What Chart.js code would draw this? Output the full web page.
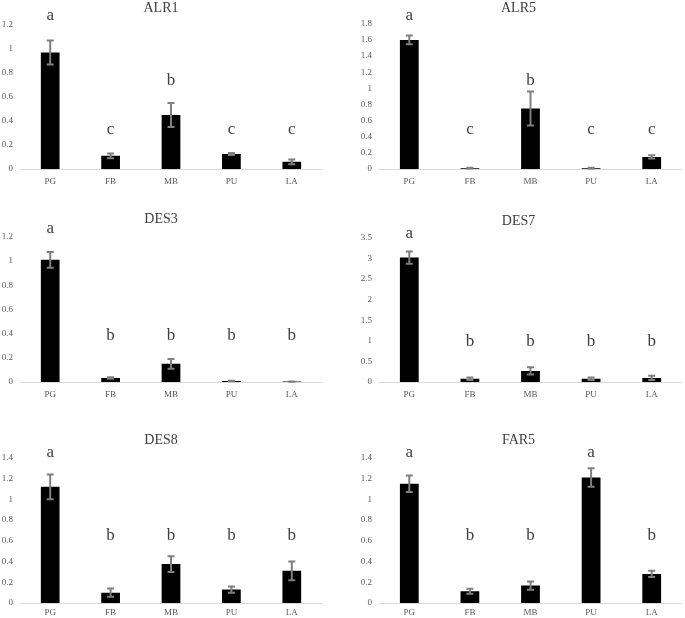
<!DOCTYPE html>
<html>
<head>
<meta charset="utf-8">
<script src="https://cdn.jsdelivr.net/npm/chart.js@4"></script>
<style>
  body { margin: 0; background: #fff; width: 685px; height: 618px; position: relative; overflow: hidden; }
  .panel { position: absolute; }
</style>
</head>
<body>
<div class="panel" style="left:0px;top:0px;width:322px;height:194px"><canvas id="c1"></canvas></div>
<div class="panel" style="left:355px;top:0px;width:327px;height:194px"><canvas id="c2"></canvas></div>
<div class="panel" style="left:0px;top:200px;width:322px;height:207px"><canvas id="c3"></canvas></div>
<div class="panel" style="left:355px;top:200px;width:327px;height:207px"><canvas id="c4"></canvas></div>
<div class="panel" style="left:0px;top:410px;width:322px;height:208px"><canvas id="c5"></canvas></div>
<div class="panel" style="left:355px;top:410px;width:327px;height:208px"><canvas id="c6"></canvas></div>
<script>
// tissues
var labels = ['PG', 'FB', 'MB', 'PU', 'LA'];

// relative expression (mean) and error (sd)
var alr1 = [0.97, 0.11, 0.45, 0.125, 0.06];
var alr1Err = [0.10, 0.02, 0.10, 0.008, 0.02];
var alr1Letters = ['a', 'c', 'b', 'c', 'c'];
var alr1LetterY = [1.28, 0.33, 0.74, 0.33, 0.33];

var alr5 = [1.6, 0.01, 0.75, 0.01, 0.15];
var alr5Err = [0.055, 0.005, 0.21, 0.005, 0.02];
var alr5Letters = ['a', 'c', 'b', 'c', 'c'];
var alr5LetterY = [1.9, 0.49, 1.1, 0.49, 0.49];

var des3 = [1.01, 0.033, 0.15, 0.008, 0.004];
var des3Err = [0.065, 0.006, 0.04, 0.002, 0.001];
var des3Letters = ['a', 'b', 'b', 'b', 'b'];
var des3LetterY = [1.27, 0.38, 0.38, 0.38, 0.38];

var des7 = [3.02, 0.08, 0.27, 0.08, 0.1];
var des7Err = [0.15, 0.03, 0.09, 0.03, 0.05];
var des7Letters = ['a', 'b', 'b', 'b', 'b'];
var des7LetterY = [3.6, 0.99, 0.99, 0.99, 0.99];

var des8 = [1.12, 0.1, 0.375, 0.13, 0.31];
var des8Err = [0.12, 0.04, 0.075, 0.03, 0.09];
var des8Letters = ['a', 'b', 'b', 'b', 'b'];
var des8LetterY = [1.45, 0.65, 0.65, 0.65, 0.65];

var far5 = [1.15, 0.113, 0.168, 1.21, 0.28];
var far5Err = [0.08, 0.025, 0.04, 0.09, 0.03];
var far5Letters = ['a', 'b', 'b', 'a', 'b'];
var far5LetterY = [1.45, 0.65, 0.65, 1.45, 0.65];

// axis ranges
var yMax = [1.2, 1.8, 1.2, 3.5, 1.4, 1.4];
var yStep = [0.2, 0.2, 0.2, 0.5, 0.2, 0.2];

var serif = '"Liberation Serif", "Times New Roman", serif';

// error bars + significance letters
var extras = {
  id: 'extras',
  afterDatasetsDraw: function(chart) {
    var o = chart.options.plugins.extras;
    var ctx = chart.ctx;
    var x = chart.scales.x, y = chart.scales.y;
    var vals = chart.data.datasets[0].data;
    ctx.save();
    ctx.strokeStyle = '#7f7f7f';
    ctx.lineWidth = 2;
    for (var i = 0; i < vals.length; i++) {
      var px = x.getPixelForValue(i);
      var top = y.getPixelForValue(vals[i] + o.err[i]);
      var bot = y.getPixelForValue(Math.max(vals[i] - o.err[i], 0));
      ctx.beginPath();
      ctx.moveTo(px, top); ctx.lineTo(px, bot);
      ctx.moveTo(px - 3.5, top); ctx.lineTo(px + 3.5, top);
      ctx.moveTo(px - 3.5, bot); ctx.lineTo(px + 3.5, bot);
      ctx.stroke();
    }
    ctx.fillStyle = '#404040';
    ctx.font = '17px ' + serif;
    ctx.textAlign = 'center';
    ctx.textBaseline = 'middle';
    for (var j = 0; j < vals.length; j++) {
      ctx.fillText(o.letters[j], x.getPixelForValue(j), y.getPixelForValue(o.letterY[j]));
    }
    ctx.restore();
  }
};

function makeChart(id, title, data, err, letters, letterY, max, step, yw, tPad, xh, xPad) {
  new Chart(document.getElementById(id), {
    type: 'bar',
    data: {
      labels: labels,
      datasets: [{
        data: data,
        backgroundColor: '#000',
        borderColor: '#000',
        borderWidth: 0,
        barPercentage: 0.31,
        categoryPercentage: 1
      }]
    },
    options: {
      responsive: true,
      maintainAspectRatio: false,
      animation: false,
      events: [],
      layout: { padding: 0 },
      plugins: {
        legend: { display: false },
        tooltip: { enabled: false },
        title: {
          display: true,
          text: title,
          color: '#404040',
          font: { family: serif, size: 14, weight: 'normal', lineHeight: 1.2 },
          padding: tPad
        },
        extras: { err: err, letters: letters, letterY: letterY }
      },
      scales: {
        x: {
          grid: { display: false, drawTicks: false },
          border: { display: true, color: '#d9d9d9', width: 1 },
          ticks: { color: '#595959', font: { family: serif, size: 9 }, padding: xPad },
          afterFit: function(s) { s.height = xh; }
        },
        y: {
          min: 0,
          max: max,
          grid: { display: false, drawTicks: false },
          border: { display: false },
          ticks: {
            stepSize: step, color: '#595959', font: { family: serif, size: 9 }, padding: 7,
            callback: function(v) { return String(+v.toFixed(2)); }
          },
          afterFit: function(s) { s.width = yw; }
        }
      }
    },
    plugins: [extras]
  });
}

makeChart('c1', 'ALR1', alr1, alr1Err, alr1Letters, alr1LetterY, yMax[0], yStep[0], 20, { top: 0, bottom: 8 }, 25, 7);
makeChart('c2', 'ALR5', alr5, alr5Err, alr5Letters, alr5LetterY, yMax[1], yStep[1], 24, { top: 0, bottom: 7 }, 25, 7);
makeChart('c3', 'DES3', des3, des3Err, des3Letters, des3LetterY, yMax[2], yStep[2], 20, { top: 11, bottom: 9 }, 25, 7);
makeChart('c4', 'DES7', des7, des7Err, des7Letters, des7LetterY, yMax[3], yStep[3], 24, { top: 13, bottom: 8 }, 25, 7);
makeChart('c5', 'DES8', des8, des8Err, des8Letters, des8LetterY, yMax[4], yStep[4], 20, { top: 22, bottom: 9 }, 15, 4);
makeChart('c6', 'FAR5', far5, far5Err, far5Letters, far5LetterY, yMax[5], yStep[5], 24, { top: 22, bottom: 9 }, 15, 4);
</script>
</body>
</html>
